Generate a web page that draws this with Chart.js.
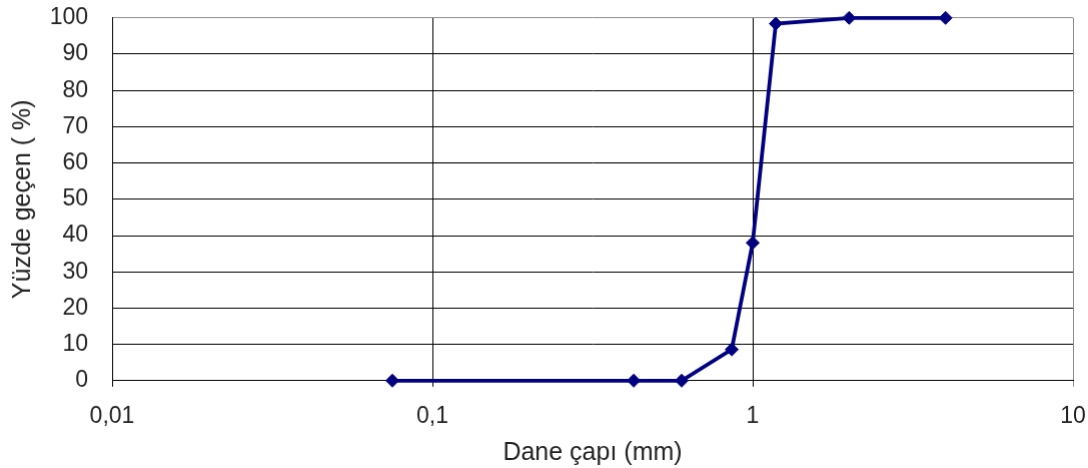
<!DOCTYPE html>
<html>
<head>
<meta charset="utf-8">
<script src="https://cdn.jsdelivr.net/npm/chart.js@4/dist/chart.umd.min.js"></script>
<style>
html,body{margin:0;padding:0;background:#fff;overflow:hidden;}
#wrap{width:1088px;height:468px;position:relative;overflow:hidden;}
#c{position:absolute;left:0;top:0;}
</style>
</head>
<body>
<div id="wrap"><canvas id="c" width="1088" height="468"></canvas></div>
<script>
const grainSize = [0.075, 0.425, 0.6, 0.86, 1.0, 1.18, 2.0, 4.0];
const passing = [0, 0, 0, 8.6, 38, 98.4, 100, 100];
const xTicks = [0.01, 0.1, 1, 10];
const xTickLabels = ['0,01', '0,1', '1', '10'];
const xTitle = 'Dane çapı (mm)';
const yTitle = 'Yüzde geçen ( %)';

const FONT = "'Liberation Sans', Arial, sans-serif";
const AREA = {left: 112, top: 18, right: 1072, bottom: 380};

const canvas = document.getElementById('c');
const chart = new Chart(canvas, {
  type: 'line',
  data: {
    datasets: [{
      data: grainSize.map((x, i) => ({x: x, y: passing[i]})),
      borderColor: '#000080',
      backgroundColor: '#000080',
      borderWidth: 3.8,
      pointStyle: 'rectRot',
      pointRadius: 6.5,
      pointHoverRadius: 6.5,
      pointBorderWidth: 1,
      tension: 0,
      clip: false
    }]
  },
  options: {
    responsive: false,
    maintainAspectRatio: false,
    animation: false,
    events: [],
    layout: {autoPadding: false, padding: {top: 18, right: 16, left: 0, bottom: 0}},
    plugins: {legend: {display: false}, tooltip: {enabled: false}},
    scales: {
      x: {
        type: 'logarithmic',
        min: 0.01,
        max: 10,
        afterBuildTicks: (s) => { s.ticks = xTicks.map(v => ({value: v})); },
        afterFit: (s) => { s.height = 88; },
        ticks: {
          autoSkip: false,
          maxRotation: 0,
          padding: 16,
          color: '#222',
          font: {family: FONT, size: 23},
          callback: (v) => { const i = xTicks.indexOf(v); return i >= 0 ? xTickLabels[i] : ''; }
        },
        grid: {
          color: (ctx) => (ctx.tick && ctx.tick.value === 10) ? '#8c8c8c' : '#000',
          tickColor: (ctx) => (ctx.tick && ctx.tick.value === 10) ? '#8c8c8c' : '#000',
          lineWidth: 1,
          tickLength: 6
        },
        border: {color: '#000', width: 1},
        title: {
          display: true,
          text: xTitle,
          color: '#222',
          font: {family: FONT, size: 25},
          padding: {top: 0, bottom: 1}
        }
      },
      y: {
        min: 0,
        max: 100,
        afterFit: (s) => { s.width = 112; },
        ticks: {
          stepSize: 10,
          padding: 24,
          color: '#222',
          font: {family: FONT, size: 23}
        },
        grid: {
          color: (ctx) => (ctx.tick && ctx.tick.value === 100) ? '#8c8c8c' : '#000',
          lineWidth: 1,
          drawTicks: false
        },
        border: {color: '#000', width: 1},
        title: {
          display: true,
          text: yTitle,
          color: '#222',
          font: {family: FONT, size: 25},
          padding: {top: 8, bottom: 0}
        }
      }
    }
  }
});

// Shift/resize the canvas so the plot area lands where the reference has it
const ca = chart.chartArea;
const dTop = ca.top - AREA.top;
const dRight = AREA.right - ca.right;
if (dTop !== 0 || dRight !== 0) {
  const W = 1088 + dRight;
  const H = 468 + dTop;
  canvas.style.top = (-dTop) + 'px';
  chart.resize(W, H);
}
</script>
</body>
</html>
